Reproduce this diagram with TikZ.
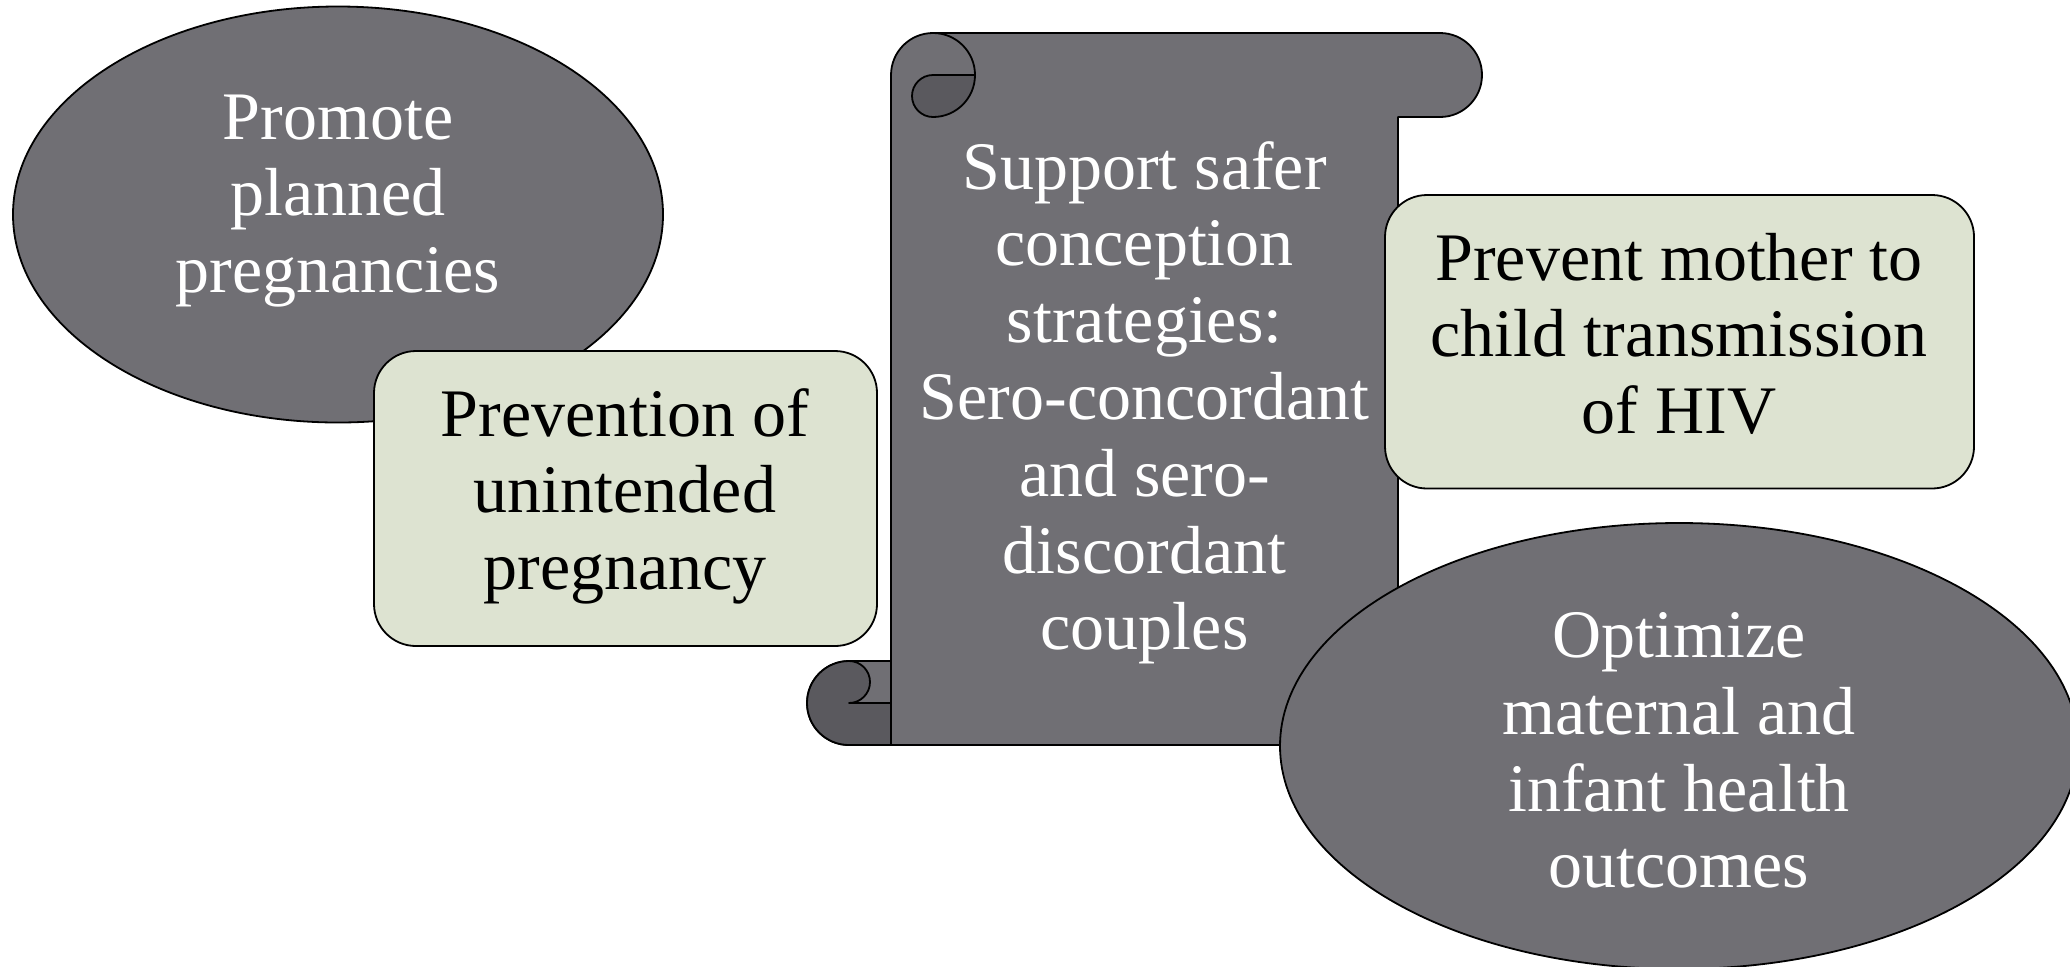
\documentclass[tikz,border=0pt]{standalone}
\usepackage{fontspec}
\setmainfont{Liberation Serif}
\definecolor{scrollgray}{RGB}{112,111,116}
\definecolor{curldark}{RGB}{90,89,94}
\definecolor{sage}{RGB}{221,227,209}
\newcommand\txtlines[1]{\vtop{\halign{\hfil##\hfil\cr#1\crcr}}}
\tikzset{
  shapeline/.style={draw=black, line width=0.9pt, line join=round},
  grayshape/.style={shapeline, fill=scrollgray},
  darkcurl/.style={shapeline, fill=curldark},
  sagebox/.style={shapeline, fill=sage, rounded corners=21pt},
  lbl/.style={anchor=base, inner sep=0pt, font=\fontsize{34}{38.4}\selectfont},
  wlbl/.style={lbl, text=white},
  blbl/.style={lbl, text=black},
}
\begin{document}
\begin{tikzpicture}[x=0.5pt,y=-0.5pt]
\clip (0,0) rectangle (2070,966);
\fill[white] (0,0) rectangle (2070,966);

% top-left ellipse
\draw[grayshape] (338,214.5) ellipse[x radius=325, y radius=208];
\node[wlbl] (planned) at (338,139) {\txtlines{Promote\cr planned\cr pregnancies}};

% left sage box
\draw[sagebox] (374,351) rectangle (877,646);
\node[blbl] (unintended) at (625,436) {\txtlines{Prevention of\cr unintended\cr pregnancy}};

% scroll body
\draw[grayshape] (933,33) -- (1440,33) arc[start angle=270, end angle=450, radius=42]
  -- (1398,117) -- (1398,745) -- (849,745) arc[start angle=90, end angle=270, radius=42]
  -- (891,661) -- (891,75) arc[start angle=180, end angle=270, radius=42] -- cycle;
% top-left curl
\draw[darkcurl] (933,75) -- (975,75) arc[start angle=0, end angle=90, radius=42]
  arc[start angle=90, end angle=270, radius=21] -- cycle;
\draw[shapeline] (933,33) arc[start angle=270, end angle=360, radius=42];
% bottom-left curl
\draw[darkcurl] (849,661) arc[start angle=270, end angle=90, radius=42]
  -- (891,745) -- (891,703) -- (849,703) arc[start angle=90, end angle=-90, radius=21] -- cycle;
\draw[shapeline] (891,661) -- (891,703);
\node[wlbl] (conception) at (1144.6,189) {\txtlines{Support safer\cr conception\cr strategies:\cr Sero-concordant\cr and sero-\cr discordant\cr couples}};

% right sage box
\draw[sagebox] (1385,195) rectangle (1974,488.5);
\node[blbl] (pmtct) at (1679,280) {\txtlines{Prevent mother to\cr child transmission\cr of HIV}};

% bottom-right ellipse
\draw[grayshape] (1679,746) ellipse[x radius=399, y radius=223];
\node[wlbl] (outcomes) at (1679,657.5) {\txtlines{Optimize\cr maternal and\cr infant health\cr outcomes}};
\end{tikzpicture}
\end{document}
